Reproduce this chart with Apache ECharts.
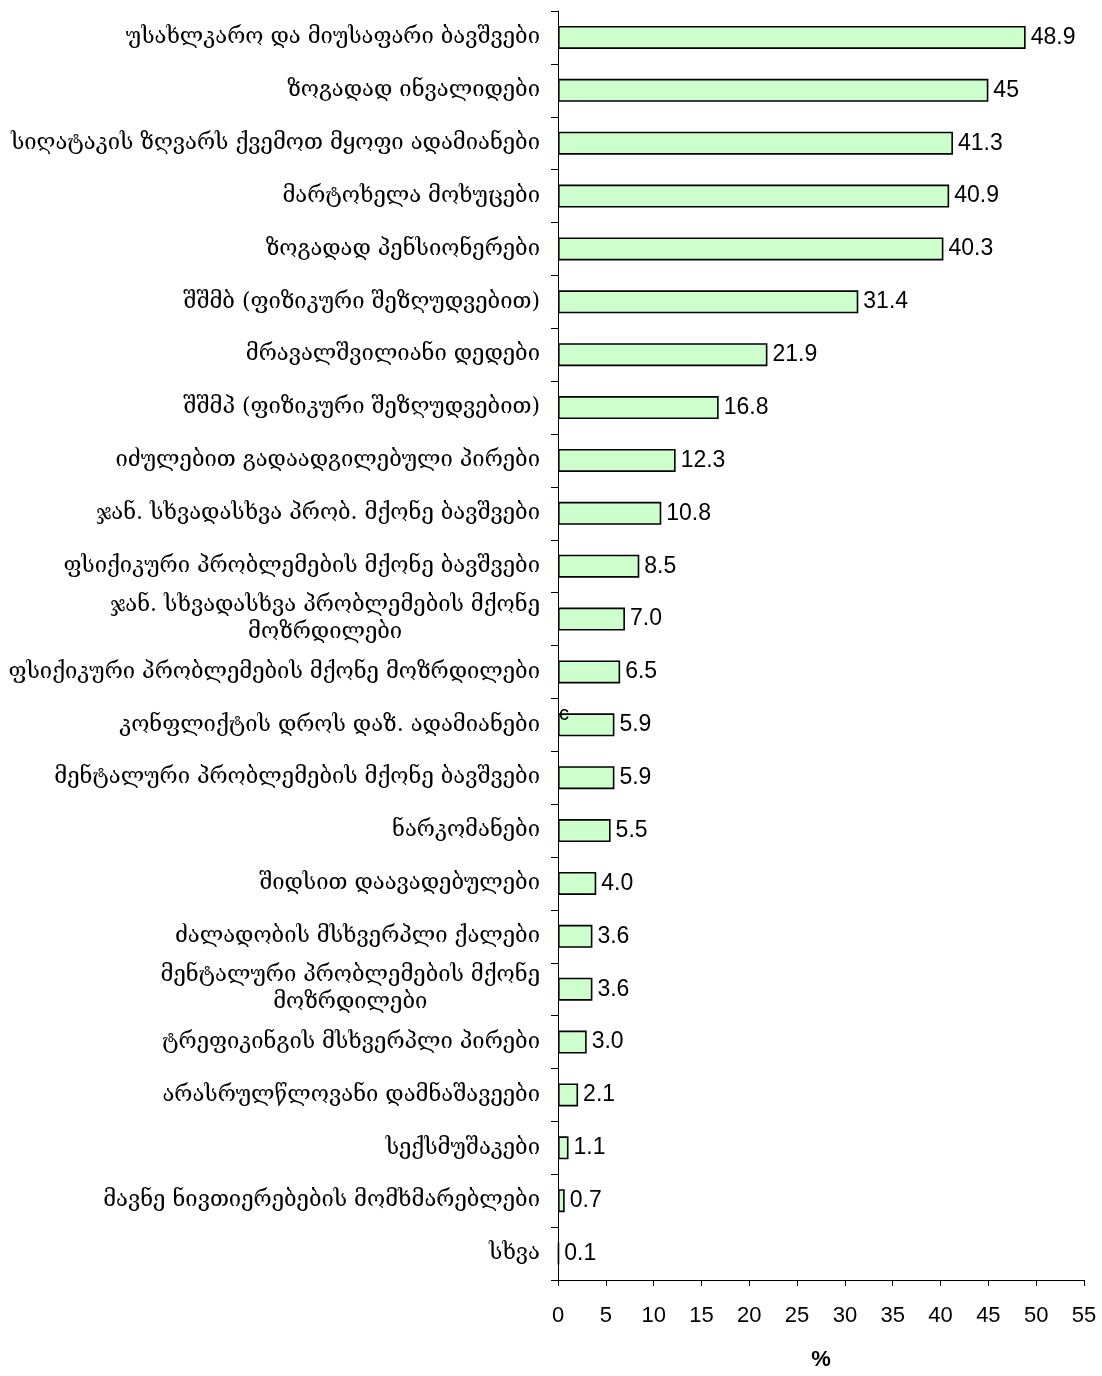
<!DOCTYPE html>
<html>
<head>
<meta charset="utf-8">
<script src="https://cdn.jsdelivr.net/npm/echarts@6/dist/echarts.min.js"></script>
<style>html,body{margin:0;padding:0;background:#fff}#c{width:1102px;height:1376px}</style>
</head>
<body>
<div id="c"></div>
<script>
const categories = [
  'უსახლკარო და მიუსაფარი ბავშვები',
  'ზოგადად ინვალიდები',
  'სიღატაკის ზღვარს ქვემოთ მყოფი ადამიანები',
  'მარტოხელა მოხუცები',
  'ზოგადად პენსიონერები',
  'შშმბ (ფიზიკური შეზღუდვებით)',
  'მრავალშვილიანი დედები',
  'შშმპ (ფიზიკური შეზღუდვებით)',
  'იძულებით გადაადგილებული პირები',
  'ჯან. სხვადასხვა პრობ. მქონე ბავშვები',
  'ფსიქიკური პრობლემების მქონე ბავშვები',
  'ჯან. სხვადასხვა პრობლემების მქონე\nმოზრდილები',
  'ფსიქიკური პრობლემების მქონე მოზრდილები',
  'კონფლიქტის დროს დაზ. ადამიანები',
  'მენტალური პრობლემების მქონე ბავშვები',
  'ნარკომანები',
  'შიდსით დაავადებულები',
  'ძალადობის მსხვერპლი ქალები',
  'მენტალური პრობლემების მქონე\nმოზრდილები',
  'ტრეფიკინგის მსხვერპლი პირები',
  'არასრულწლოვანი დამნაშავეები',
  'სექსმუშაკები',
  'მავნე ნივთიერებების მომხმარებლები',
  'სხვა'
];
const values = [48.9, 45, 41.3, 40.9, 40.3, 31.4, 21.9, 16.8, 12.3, 10.8, 8.5, 7.0, 6.5, 5.9, 5.9, 5.5, 4.0, 3.6, 3.6, 3.0, 2.1, 1.1, 0.7, 0.1];
const valueLabels = ['48.9', '45', '41.3', '40.9', '40.3', '31.4', '21.9', '16.8', '12.3', '10.8', '8.5', '7.0', '6.5', '5.9', '5.9', '5.5', '4.0', '3.6', '3.6', '3.0', '2.1', '1.1', '0.7', '0.1'];
const xTicks = [0, 5, 10, 15, 20, 25, 30, 35, 40, 45, 50, 55];
const axisTitle = '%';

const chart = echarts.init(document.getElementById('c'), null, {renderer: 'canvas'});
const option = {
  animation: false,
  backgroundColor: '#ffffff',
  grid: {left: 558, right: 18, top: 11, bottom: 84, containLabel: false},
  xAxis: {
    type: 'value', min: xTicks[0], max: xTicks[xTicks.length - 1], interval: 5,
    name: axisTitle, nameLocation: 'middle', nameGap: 69,
    nameTextStyle: {fontFamily: 'Liberation Sans, Arial', fontSize: 22, fontWeight: 'bold', color: '#000'},
    axisLine: {show: true, lineStyle: {color: '#000', width: 1}},
    axisTick: {show: true, length: 6, lineStyle: {color: '#000'}},
    axisLabel: {color: '#000', fontFamily: 'Liberation Sans, Arial', fontSize: 22, margin: 25},
    splitLine: {show: false}
  },
  yAxis: {
    type: 'category', data: categories, inverse: true,
    axisLine: {show: true, lineStyle: {color: '#000', width: 1}},
    axisTick: {show: true, length: 7, lineStyle: {color: '#000'}},
    axisLabel: {
      color: '#000', fontFamily: 'DejaVu Serif', fontSize: 22, margin: 18,
      formatter: v => v.split('\n').map(s => '{c|' + s + '}').join('\n'),
      rich: {c: {align: 'center', fontFamily: 'DejaVu Serif', fontSize: 22, color: '#000', lineHeight: 27}}
    }
  },
  series: [{
    type: 'bar', data: values, barWidth: 23,
    itemStyle: {color: '#ccffcc', borderColor: '#000', borderWidth: 1.6},
    label: {
      show: true, position: 'right', distance: 5, color: '#000',
      fontFamily: 'Liberation Sans, Arial', fontSize: 23,
      formatter: p => valueLabels[p.dataIndex]
    }
  }],
  graphic: [{
    type: 'text', left: 559, top: 704, z: 100,
    style: {text: 'c', fontFamily: 'Liberation Sans, Arial', fontSize: 20, fill: '#000'}
  }]
};
chart.setOption(option);
</script>
</body>
</html>
